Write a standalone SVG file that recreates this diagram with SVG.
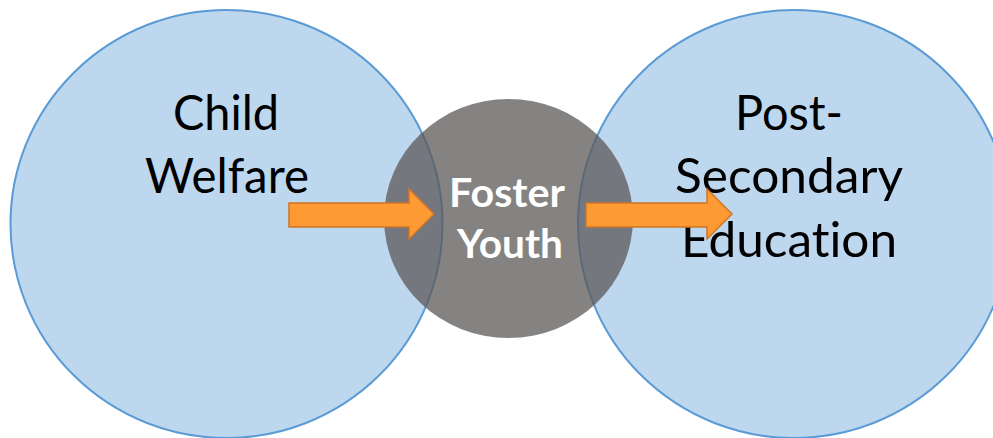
<svg xmlns="http://www.w3.org/2000/svg" width="993" height="438" viewBox="0 0 993 438">
<style>
.big{fill:#bdd7ee;stroke:#5b9bd5;stroke-width:2}
.lbl{font-family:Lato,"Liberation Sans",sans-serif;font-size:48px;fill:#000;text-anchor:middle;font-variant-ligatures:none}
.mid{font-family:Lato,"Liberation Sans",sans-serif;font-size:40px;font-weight:bold;fill:#fff;text-anchor:middle;font-variant-ligatures:none}
.arr{fill:#fd9a34;stroke:#cf7627;stroke-width:1.5;stroke-linejoin:miter}
</style>
<rect width="993" height="438" fill="#ffffff"/>
<g id="child-welfare">
<ellipse class="big" cx="226.5" cy="224" rx="216" ry="214"/>
</g>
<g id="post-secondary">
<ellipse class="big" cx="794" cy="224" rx="216" ry="214"/>
</g>
<g id="foster-youth">
<ellipse cx="508.5" cy="218.5" rx="124.5" ry="119.5" fill="#5a5656" fill-opacity="0.74"/>
<text class="mid" x="507" y="207" textLength="116" lengthAdjust="spacingAndGlyphs">Foster</text>
<text class="mid" x="510" y="258" textLength="106" lengthAdjust="spacingAndGlyphs">Youth</text>
</g>
<g id="labels">
<text class="lbl" x="226" y="130" textLength="106" lengthAdjust="spacingAndGlyphs">Child</text>
<text class="lbl" x="227" y="193" textLength="164" lengthAdjust="spacingAndGlyphs">Welfare</text>
<text class="lbl" x="789" y="130" textLength="108" lengthAdjust="spacingAndGlyphs">Post-</text>
<text class="lbl" x="789" y="193" textLength="228" lengthAdjust="spacingAndGlyphs">Secondary</text>
<text class="lbl" x="789" y="257" textLength="216" lengthAdjust="spacingAndGlyphs">Education</text>
</g>
<g id="connectors">
<path class="arr" d="M289,203 H409 V189 L434,214 L409,239 V227 H289 Z"/>
<path class="arr" d="M586,203 H707 V189 L732,214 L707,239 V227 H586 Z"/>
</g>
</svg>
